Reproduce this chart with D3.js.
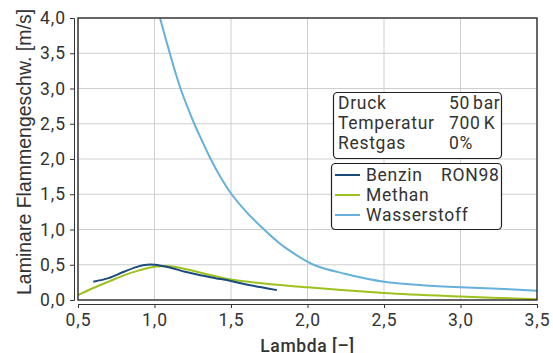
<!DOCTYPE html>
<html><head><meta charset="utf-8">
<script src="https://cdn.jsdelivr.net/npm/d3@7"></script>
<style>
html,body{margin:0;padding:0;background:#fff;}
svg{display:block;}
text{font-family:Roboto,"Liberation Sans",sans-serif;fill:#333;}
</style></head>
<body><svg id="c" width="553" height="353"></svg>
<script>
const xTicks = [0.5,1.0,1.5,2.0,2.5,3.0,3.5];
const yTicks = [0,0.5,1,1.5,2,2.5,3,3.5,4];
const seriesNames = ["Benzin", "Methan", "Wasserstoff"];
const benzinLambda = [0.6,0.7,0.8,0.9,0.95,1.0,1.1,1.2,1.3,1.4,1.5,1.6,1.7,1.8];
const benzinSpeed  = [0.26,0.31,0.40,0.48,0.50,0.50,0.46,0.40,0.35,0.31,0.27,0.22,0.18,0.14];
const methanLambda = [0.5,0.6,0.7,0.8,0.9,1.0,1.1,1.2,1.5,2.0,2.5,3.0,3.5];
const methanSpeed  = [0.07,0.17,0.26,0.35,0.42,0.47,0.48,0.44,0.29,0.18,0.10,0.05,0.01];
const h2Lambda = [1.036,1.10,1.17,1.26,1.308,1.367,1.435,1.504,1.60,1.716,1.787,1.85,2.04,2.25,2.5,2.75,3.0,3.25,3.5];
const h2Speed  = [4.0,3.5,3.0,2.5,2.27,2.0,1.73,1.5,1.25,1.0,0.86,0.75,0.5,0.37,0.26,0.21,0.18,0.16,0.13];
const infoLabels = ["Druck","Temperatur","Restgas"];
const infoValues = ["50 bar","700 K","0%"];

const svg = d3.select("#c");
const L=78,R=537,T=18,B=300;
const x = d3.scaleLinear().domain([0.5,3.5]).range([L,R]);
const y = d3.scaleLinear().domain([0,4]).range([B,T]);
const fmt = d => d3.format(".1f")(d).replace(".",",");
const FS = 17.5, LS = "0.7px";

// grid
svg.append("g").selectAll("line").data(xTicks).join("line")
  .attr("x1",d=>x(d)).attr("x2",d=>x(d)).attr("y1",T).attr("y2",B)
  .attr("stroke","#cfcfcf").attr("stroke-width",1);
svg.append("g").selectAll("line").data(yTicks).join("line")
  .attr("x1",L).attr("x2",R).attr("y1",d=>y(d)).attr("y2",d=>y(d))
  .attr("stroke","#cfcfcf").attr("stroke-width",1);

// axes
const xa = svg.append("g").attr("transform",`translate(0,${B+4})`)
  .call(d3.axisBottom(x).tickValues(xTicks).tickFormat(fmt).tickSize(4).tickPadding(6));
const ya = svg.append("g").attr("transform",`translate(${L-4},0)`)
  .call(d3.axisLeft(y).tickValues(yTicks).tickFormat(fmt).tickSize(4).tickPadding(4));
[xa,ya].forEach(a=>{
  a.selectAll("path,line").attr("stroke","#333");
  a.selectAll("text").attr("font-size",FS).attr("fill","#333").style("letter-spacing","1px")
   .style("font-family","Roboto,sans-serif");
});

// clip
svg.append("clipPath").attr("id","clip").append("rect").attr("x",L).attr("y",T).attr("width",R-L).attr("height",B-T);

const line = d3.line().x(d=>x(d[0])).y(d=>y(d[1])).curve(d3.curveCatmullRom.alpha(0.5));
const data = [
  {name:seriesNames[0], color:"#1b4a7c", pts:d3.zip(benzinLambda,benzinSpeed)},
  {name:seriesNames[1], color:"#9cc21e", pts:d3.zip(methanLambda,methanSpeed)},
  {name:seriesNames[2], color:"#66b1dc", pts:d3.zip(h2Lambda,h2Speed)}
];
const order = [2,1,0];
svg.append("g").attr("clip-path","url(#clip)").selectAll("path").data(order.map(i=>data[i])).join("path")
  .attr("d",d=>line(d.pts)).attr("fill","none").attr("stroke",d=>d.color).attr("stroke-width",2);

// frame
svg.append("rect").attr("x",L).attr("y",T).attr("width",R-L).attr("height",B-T)
  .attr("fill","none").attr("stroke","#222").attr("stroke-width",1.3);

// titles
svg.append("text").attr("x",(L+R)/2).attr("y",352).attr("text-anchor","middle")
  .attr("font-size",FS).attr("font-weight",500).style("letter-spacing","0.6px").text("Lambda [–]");
svg.append("text").attr("transform","translate(24,152) rotate(-90)").attr("text-anchor","middle").attr("dy","0.35em")
  .style("font-family","'Liberation Sans',Arial,sans-serif").attr("font-size",19.5).text("Laminare Flammengeschw. [m/s]");

// info box
svg.append("rect").attr("x",333.5).attr("y",92.5).attr("width",168).attr("height",66).attr("rx",4)
  .attr("fill","#fff").attr("stroke","#222").attr("stroke-width",1.2);
const ib = svg.append("g").style("letter-spacing",LS).style("word-spacing","-2px");
infoLabels.forEach((t,i)=>{
  ib.append("text").attr("x",338).attr("y",103+i*20).attr("dy","0.35em").attr("font-size",FS).text(t);
  ib.append("text").attr("x",449).attr("y",103+i*20).attr("dy","0.35em").attr("font-size",FS).text(infoValues[i]);
});

// legend
svg.append("rect").attr("x",331.5).attr("y",163.5).attr("width",170).attr("height",66).attr("rx",4)
  .attr("fill","#fff").attr("stroke","#222").attr("stroke-width",1.2);
const lg = svg.append("g").style("letter-spacing",LS);
data.forEach((d,i)=>{
  const yy = 175+i*20;
  lg.append("line").attr("x1",335).attr("x2",360).attr("y1",yy).attr("y2",yy).attr("stroke",d.color).attr("stroke-width",2);
  lg.append("text").attr("x",366).attr("y",yy).attr("dy","0.35em").attr("font-size",FS).text(d.name);
});
lg.append("text").attr("x",441).attr("y",175).attr("dy","0.35em").attr("font-size",FS).text("RON98");
</script></body></html>
